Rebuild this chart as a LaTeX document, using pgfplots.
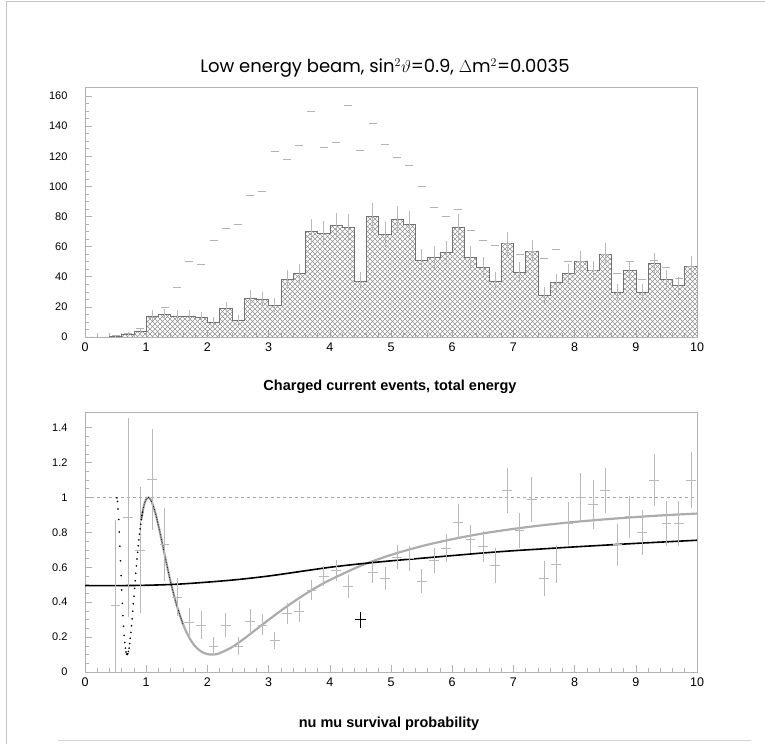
\documentclass[border=0pt]{standalone}
\usepackage{fontspec}
\setmainfont{Liberation Sans}
\newfontfamily\titlefont{Poppins}
\usepackage{pgfplots}
\pgfplotsset{compat=1.18}
\usetikzlibrary{patterns}

\pgfdeclarepatternformonly{xhatch}{\pgfqpoint{-0.5pt}{-0.5pt}}{\pgfqpoint{5.5pt}{5.5pt}}{\pgfqpoint{5pt}{5pt}}{%
  \pgfsetlinewidth{0.5pt}%
  \pgfpathmoveto{\pgfqpoint{-0.1pt}{-0.1pt}}\pgfpathlineto{\pgfqpoint{5.1pt}{5.1pt}}%
  \pgfpathmoveto{\pgfqpoint{-0.1pt}{5.1pt}}\pgfpathlineto{\pgfqpoint{5.1pt}{-0.1pt}}%
  \pgfusepath{stroke}}

\pgfplotsset{paw/.style={
  scale only axis, width=612pt, anchor=south west,
  xmin=0, xmax=10,
  axis line style={gray!60, line width=0.7pt},
  tick align=inside, tick pos=left,
  major tick length=7pt, minor tick length=4pt,
  every tick/.style={gray!60, line width=0.6pt},
  xtick={0,1,2,3,4,5,6,7,8,9,10}, minor x tick num=4,
  /pgf/number format/assume math mode=true,
  tick label style={text=black},
  xticklabel style={font=\fontsize{12.5}{14}\selectfont, yshift=-2pt},
  yticklabel style={font=\fontsize{11}{13}\selectfont, xshift=-14pt},
}}

\begin{document}
\begin{tikzpicture}[x=1pt,y=1pt]
\useasboundingbox (0,0) rectangle (765,744);
\draw[gray!45, line width=1pt] (6,0) -- (6,742) -- (765,742);
\draw[gray!35, line width=1pt] (58,4) -- (751,4);

% ---------------- top panel ----------------
\begin{axis}[paw, at={(85pt,407pt)}, height=250pt,
  ymin=0, ymax=166, ytick={0,20,40,60,80,100,120,140,160}, minor y tick num=3]
\addplot[const plot mark left, draw=black!55, line width=0.6pt,
  pattern=xhatch, pattern color=gray!85] coordinates {
(0.0,0) (0.2,0) (0.4,0.5) (0.6,2) (0.8,4)
(1.0,14) (1.2,15) (1.4,14) (1.6,14) (1.8,13)
(2.0,10) (2.2,19) (2.4,11) (2.6,26) (2.8,25)
(3.0,21) (3.2,38) (3.4,42) (3.6,70) (3.8,69)
(4.0,74) (4.2,73) (4.4,37) (4.6,80) (4.8,68)
(5.0,78) (5.2,75) (5.4,51) (5.6,53) (5.8,56)
(6.0,73) (6.2,53) (6.4,46) (6.6,37) (6.8,62)
(7.0,43) (7.2,57) (7.4,28) (7.6,36) (7.8,42)
(8.0,50) (8.2,44) (8.4,55) (8.6,30) (8.8,44)
(9.0,30) (9.2,49) (9.4,38) (9.6,34) (9.8,47)
(10.0,47)} \closedcycle;
\addplot[draw=none, mark=none, error bars/.cd, y dir=both, y explicit,
  error mark=none, error bar style={gray!55, line width=0.5pt}] coordinates {
(0.5,0.5) +- (0,0.7) (0.7,2) +- (0,1.4) (0.9,4) +- (0,2)
(1.1,14) +- (0,3.7) (1.3,15) +- (0,3.9) (1.5,14) +- (0,3.7) (1.7,14) +- (0,3.7) (1.9,13) +- (0,3.6)
(2.1,10) +- (0,3.2) (2.3,19) +- (0,4.4) (2.5,11) +- (0,3.3) (2.7,26) +- (0,5.1) (2.9,25) +- (0,5)
(3.1,21) +- (0,4.6) (3.3,38) +- (0,6.2) (3.5,42) +- (0,6.5) (3.7,70) +- (0,8.4) (3.9,69) +- (0,8.3)
(4.1,74) +- (0,8.6) (4.3,73) +- (0,8.5) (4.5,37) +- (0,6.1) (4.7,80) +- (0,8.9) (4.9,68) +- (0,8.2)
(5.1,78) +- (0,8.8) (5.3,75) +- (0,8.7) (5.5,51) +- (0,7.1) (5.7,53) +- (0,7.3) (5.9,56) +- (0,7.5)
(6.1,73) +- (0,8.5) (6.3,53) +- (0,7.3) (6.5,46) +- (0,6.8) (6.7,37) +- (0,6.1) (6.9,62) +- (0,7.9)
(7.1,43) +- (0,6.6) (7.3,57) +- (0,7.5) (7.5,28) +- (0,5.3) (7.7,36) +- (0,6) (7.9,42) +- (0,6.5)
(8.1,50) +- (0,7.1) (8.3,44) +- (0,6.6) (8.5,55) +- (0,7.4) (8.7,30) +- (0,5.5) (8.9,44) +- (0,6.6)
(9.1,30) +- (0,5.5) (9.3,49) +- (0,7) (9.5,38) +- (0,6.2) (9.7,34) +- (0,5.8) (9.9,47) +- (0,6.9)};
\addplot[only marks, mark=-, mark size=4pt, mark options={gray!60, line width=0.7pt}] coordinates {
(0.5,1.3) (0.7,2.3) (0.9,5.7) (1.1,13) (1.3,20)
(1.5,33) (1.7,50) (1.9,48) (2.1,64) (2.3,72) (2.5,75) (2.7,94) (2.9,97)
(3.1,123) (3.3,118) (3.5,127) (3.7,150) (3.9,126) (4.1,129) (4.3,154) (4.5,124)
(4.7,142) (4.9,128) (5.1,119) (5.3,114) (5.5,100) (5.7,86) (5.9,80) (6.1,85)
(6.3,71) (6.5,64) (6.7,61) (6.9,62) (7.1,55) (7.3,57) (7.5,52) (7.7,58)
(7.9,50) (8.1,50) (8.3,44) (8.5,55) (8.7,42) (8.9,50) (9.1,38) (9.3,51)
(9.5,46) (9.7,39) (9.9,47)};
\end{axis}

% ---------------- bottom panel ----------------
\begin{axis}[paw, at={(85pt,72pt)}, height=260pt,
  ymin=0, ymax=1.49, ytick={0,0.2,0.4,0.6,0.8,1,1.2,1.4}, minor y tick num=3]
\addplot[gray!70, dashed, line width=0.7pt] coordinates {(0,1) (10,1)};
% oscillation curve: sampled points (sparse region shown as dots)
\addplot[only marks, mark=*, mark size=0.6pt, mark options={draw=none, fill=black!75}] coordinates {
(0.52,0.998) (0.53,0.977) (0.54,0.934) (0.55,0.874) (0.56,0.802) (0.57,0.721)
(0.58,0.637) (0.59,0.552) (0.60,0.470) (0.61,0.393) (0.62,0.323) (0.63,0.262)
(0.64,0.210) (0.65,0.169) (0.66,0.137) (0.67,0.115) (0.68,0.103) (0.69,0.100)
(0.70,0.105) (0.71,0.118) (0.72,0.137) (0.73,0.163) (0.74,0.193) (0.75,0.227)
(0.76,0.265) (0.77,0.305) (0.78,0.348) (0.79,0.391) (0.80,0.434) (0.81,0.479)
(0.82,0.523) (0.83,0.566) (0.84,0.608) (0.85,0.648) (0.86,0.686) (0.87,0.723)
(0.88,0.757) (0.89,0.790) (0.90,0.820) (0.91,0.847) (0.92,0.873) (0.93,0.896)
(0.94,0.916)};
\addplot[gray!65, line width=2.2pt, smooth] coordinates {
(0.92,0.873) (0.95,0.934) (0.98,0.974) (1.01,0.995) (1.04,1.0) (1.07,0.989)
(1.10,0.967) (1.15,0.911) (1.20,0.839) (1.25,0.758) (1.30,0.675) (1.35,0.593)
(1.40,0.515) (1.45,0.445) (1.50,0.381) (1.60,0.275) (1.70,0.199) (1.80,0.147)
(1.90,0.117) (2.00,0.1025) (2.10,0.100) (2.20,0.108) (2.40,0.142) (2.60,0.191)
(2.80,0.245) (3.00,0.299) (3.25,0.364) (3.50,0.424) (3.75,0.479) (4.00,0.527)
(4.50,0.608) (5.00,0.671) (5.50,0.721) (6.00,0.761) (6.50,0.794) (7.00,0.820)
(7.50,0.842) (8.00,0.860) (8.50,0.875) (9.00,0.888) (9.50,0.899) (10.0,0.908)};
\addplot[black, line width=0.7pt, densely dotted, smooth] coordinates {
(0.92,0.873) (0.95,0.934) (0.98,0.974) (1.01,0.995) (1.04,1.0) (1.07,0.989)
(1.10,0.967) (1.15,0.911) (1.20,0.839) (1.25,0.758) (1.30,0.675) (1.35,0.593)
(1.40,0.515) (1.45,0.445) (1.50,0.381) (1.60,0.275)};
% smeared curve
\addplot[black, line width=1.6pt, smooth] coordinates {
(0,0.495) (0.5,0.495) (1,0.497) (1.5,0.503) (2,0.515) (2.5,0.53) (3,0.55)
(3.5,0.575) (4,0.60) (4.5,0.62) (5,0.637) (5.5,0.652) (6,0.667) (6.5,0.682)
(7,0.695) (7.5,0.706) (8,0.717) (8.5,0.727) (9,0.737) (9.5,0.746) (10,0.755)};
% data points
\addplot[draw=none, mark=none, error bars/.cd, x dir=both, x explicit, y dir=both, y explicit,
  error mark=none, error bar style={gray!55, line width=0.6pt}] coordinates {
(0.5,0.38) +- (0.08,0.49) (0.7,0.885) +- (0.08,0.57) (0.9,0.70) +- (0.08,0.36)
(1.1,1.105) +- (0.08,0.29) (1.3,0.73) +- (0.08,0.21) (1.5,0.43) +- (0.08,0.11)
(1.7,0.285) +- (0.08,0.08) (1.9,0.27) +- (0.08,0.08) (2.1,0.15) +- (0.08,0.05)
(2.3,0.27) +- (0.08,0.07) (2.5,0.15) +- (0.08,0.05) (2.7,0.29) +- (0.08,0.07)
(2.9,0.27) +- (0.08,0.06) (3.1,0.18) +- (0.08,0.05) (3.3,0.335) +- (0.08,0.06)
(3.5,0.345) +- (0.08,0.06) (3.7,0.47) +- (0.08,0.06) (3.9,0.55) +- (0.08,0.06)
(4.1,0.58) +- (0.08,0.06) (4.3,0.49) +- (0.08,0.065)
(4.7,0.57) +- (0.08,0.06) (4.9,0.535) +- (0.08,0.065) (5.1,0.66) +- (0.08,0.07)
(5.3,0.65) +- (0.08,0.07) (5.5,0.52) +- (0.08,0.07) (5.7,0.64) +- (0.08,0.07)
(5.9,0.71) +- (0.08,0.08) (6.1,0.86) +- (0.08,0.10) (6.3,0.76) +- (0.08,0.08)
(6.5,0.72) +- (0.08,0.09) (6.7,0.61) +- (0.08,0.10) (6.9,1.04) +- (0.08,0.13)
(7.1,0.81) +- (0.08,0.10) (7.3,0.99) +- (0.08,0.13) (7.5,0.535) +- (0.08,0.10)
(7.7,0.62) +- (0.08,0.11) (7.9,0.85) +- (0.08,0.125) (8.1,1.00) +- (0.08,0.14)
(8.3,0.96) +- (0.08,0.14) (8.5,1.04) +- (0.08,0.13) (8.7,0.73) +- (0.08,0.12)
(8.9,0.89) +- (0.08,0.12) (9.1,0.80) +- (0.08,0.13) (9.3,1.10) +- (0.08,0.15)
(9.5,0.85) +- (0.08,0.13) (9.7,0.85) +- (0.08,0.13) (9.9,1.10) +- (0.08,0.16)};
\addplot[draw=none, mark=none, error bars/.cd, x dir=both, x explicit, y dir=both, y explicit,
  error mark=none, error bar style={black, line width=0.8pt}] coordinates {
(4.5,0.30) +- (0.09,0.045)};
\end{axis}

\node[font=\titlefont\fontsize{18}{21}\selectfont] at (385,676)
  {Low energy beam, sin$^2\vartheta$=0.9, $\Delta$m$^2$=0.0035};
\node[font=\bfseries\fontsize{14.5}{17}\selectfont] at (390,357)
  {Charged current events, total energy};
\node[font=\bfseries\fontsize{14.5}{17}\selectfont] at (389,20)
  {nu mu survival probability};
\end{tikzpicture}
\end{document}
